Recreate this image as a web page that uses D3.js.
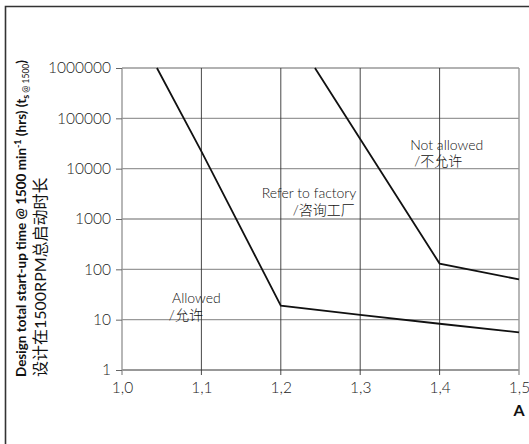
<!DOCTYPE html>
<html lang="en">
<head>
    <meta charset="UTF-8">
    <title>Start-up time</title>
    <style>
        html, body {
            margin: 0;
            padding: 0;
            background: #fff;
        }
        svg text {
            font-family: Lato, "Noto Sans CJK SC", sans-serif;
        }
    </style>
</head>
<body>
<svg id="chart"></svg>
<script src="https://cdnjs.cloudflare.com/ajax/libs/d3/7.8.5/d3.min.js"></script>
<script>
    "use strict"

    // axis ticks
    const xTicks = [1.0, 1.1, 1.2, 1.3, 1.4, 1.5];
    const yTicks = [1, 10, 100, 1000, 10000, 100000, 1000000];

    // lower boundary (allowed / refer to factory)
    const allowedA = [1.044, 1.1, 1.2, 1.3, 1.4, 1.5];
    const allowedT = [1000000, 22000, 19, 12.5, 8.3, 5.6];

    // upper boundary (refer to factory / not allowed)
    const factoryA = [1.243, 1.4, 1.5];
    const factoryT = [1000000, 130, 63];

    // zone labels
    const zoneText = ["Not allowed", "/不允许", "Refer to factory", "/咨询工厂", "Allowed", "/允许"];
    const zoneA = [1.363, 1.368, 1.176, 1.215, 1.063, 1.059];
    const zoneT = [23500, 11400, 2630, 1200, 21.5, 9.8];

    const W = 529, H = 444;
    const margin = {left: 122, right: 10, top: 68, bottom: 74};

    const svg = d3.select("#chart")
        .attr("width", W)
        .attr("height", H);

    const x = d3.scaleLinear()
        .domain([1.0, 1.5])
        .range([margin.left, W - margin.right]);

    const y = d3.scaleLog()
        .domain([1, 1000000])
        .range([H - margin.bottom, margin.top]);

    // outer frame (left + top)
    svg.append("path")
        .attr("d", `M5.5,${H} L5.5,6.5 L${W},6.5`)
        .attr("fill", "none")
        .attr("stroke", "#333")
        .attr("stroke-width", 1.6);

    // horizontal grid
    svg.append("g")
        .selectAll("line")
        .data(yTicks)
        .enter()
        .append("line")
        .attr("x1", x(1.0))
        .attr("x2", x(1.5))
        .attr("y1", d => y(d))
        .attr("y2", d => y(d))
        .attr("stroke", d => d === 1 ? "#333" : "#999")
        .attr("stroke-width", d => d === 1 ? 1 : 1.4);

    // vertical grid
    svg.append("g")
        .selectAll("line")
        .data(xTicks)
        .enter()
        .append("line")
        .attr("x1", d => x(d))
        .attr("x2", d => x(d))
        .attr("y1", y(1000000))
        .attr("y2", y(1) + 5)
        .attr("stroke", d => (d === 1.0 || d === 1.5) ? "#999" : "#333")
        .attr("stroke-width", d => (d === 1.0 || d === 1.5) ? 1.4 : 0.9);

    // y axis
    const yAxis = d3.axisLeft(y)
        .tickValues(yTicks)
        .tickFormat(d3.format("d"))
        .tickSize(6)
        .tickPadding(5);

    const gy = svg.append("g")
        .attr("transform", `translate(${x(1.0)},0)`)
        .call(yAxis);
    gy.select(".domain").remove();
    gy.selectAll(".tick line").attr("stroke", "#666");
    gy.selectAll(".tick text")
        .attr("font-family", "Lato, sans-serif")
        .attr("font-weight", 300)
        .attr("font-size", 15.5)
        .attr("fill", "#222");

    // x axis labels
    const xAxis = d3.axisBottom(x)
        .tickValues(xTicks)
        .tickFormat(d => d3.format(".1f")(d).replace(".", ","))
        .tickSize(0)
        .tickPadding(12);

    const gx = svg.append("g")
        .attr("transform", `translate(0,${y(1)})`)
        .call(xAxis);
    gx.select(".domain").remove();
    gx.selectAll(".tick text")
        .attr("font-family", "Lato, sans-serif")
        .attr("font-weight", 300)
        .attr("font-size", 15.5)
        .attr("fill", "#222");

    svg.append("text")
        .attr("x", x(1.5))
        .attr("y", y(1) + 46)
        .attr("text-anchor", "middle")
        .attr("font-family", "'Liberation Sans Narrow', 'DejaVu Sans Condensed', sans-serif")
        .attr("font-weight", "bold")
        .attr("font-size", 16)
        .attr("fill", "#111")
        .text("A");

    // curves
    const line = d3.line()
        .x(d => x(d[0]))
        .y(d => y(d[1]));

    svg.append("path")
        .datum(d3.zip(allowedA, allowedT))
        .attr("d", line)
        .attr("fill", "none")
        .attr("stroke", "#111")
        .attr("stroke-width", 1.8);

    svg.append("path")
        .datum(d3.zip(factoryA, factoryT))
        .attr("d", line)
        .attr("fill", "none")
        .attr("stroke", "#111")
        .attr("stroke-width", 1.8);

    // zone labels
    svg.append("g")
        .selectAll("text")
        .data(zoneText)
        .enter()
        .append("text")
        .attr("x", (d, i) => x(zoneA[i]))
        .attr("y", (d, i) => y(zoneT[i]))
        .attr("font-family", "Lato, 'Noto Sans CJK SC', sans-serif")
        .attr("font-weight", 300)
        .attr("font-size", 14)
        .attr("fill", "#111")
        .text(d => d);

    // y axis title
    const titleY = 377;
    const t1 = svg.append("text")
        .attr("transform", `translate(26,${titleY}) rotate(-90)`)
        .attr("font-family", "'Liberation Sans Narrow', 'DejaVu Sans Condensed', sans-serif")
        .attr("font-weight", "bold")
        .attr("font-size", 13.5)
        .attr("textLength", 317)
        .attr("lengthAdjust", "spacingAndGlyphs")
        .attr("fill", "#111");
    t1.append("tspan").text("Design total start-up time @ 1500 min");
    t1.append("tspan").attr("dy", -5).attr("font-size", 9).text("-1");
    t1.append("tspan").attr("dy", 5).text(" (hrs)  (t");
    t1.append("tspan").attr("dy", 3).attr("font-size", 9).text("s");
    t1.append("tspan").attr("font-size", 8.5).attr("font-weight", "normal").text(" @ 1500");
    t1.append("tspan").attr("dy", -3).text(")");

    svg.append("text")
        .attr("transform", `translate(46,${titleY}) rotate(-90)`)
        .attr("font-family", "'Noto Sans CJK SC', sans-serif")
        .attr("font-size", 16)
        .attr("fill", "#111")
        .text("设计在1500RPM总启动时长");
</script>
</body>
</html>
